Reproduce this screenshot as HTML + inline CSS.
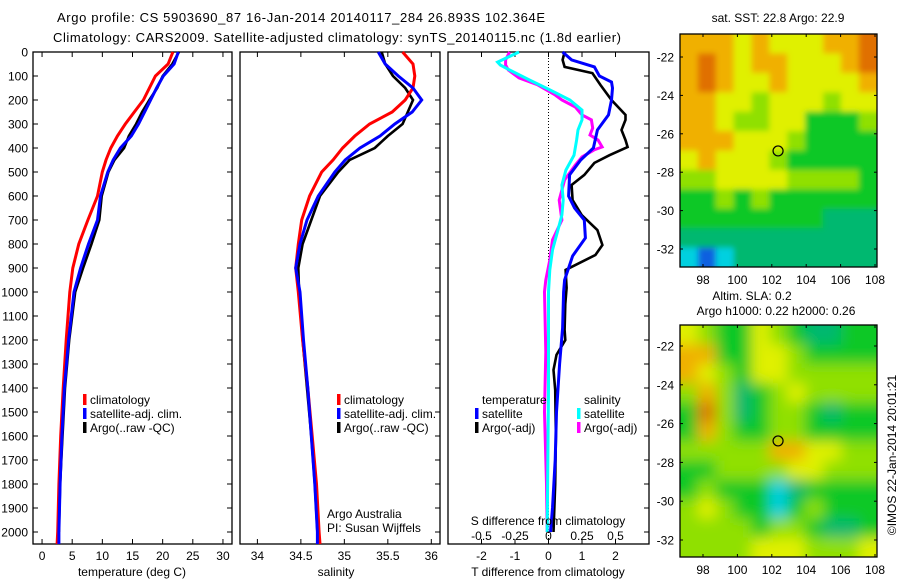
<!DOCTYPE html>
<html><head><meta charset="utf-8">
<style>
html,body{margin:0;padding:0;background:#fff;}
svg{display:block;font-family:"Liberation Sans",sans-serif;}
text{fill:#000;}
</style></head>
<body>
<svg id="fig" width="900" height="580" viewBox="0 0 900 580" xmlns="http://www.w3.org/2000/svg">
<defs>
<filter id="blur1" x="0" y="0" width="1" height="1"><feGaussianBlur stdDeviation="3"/></filter>
<filter id="blur2" x="0" y="0" width="1" height="1"><feGaussianBlur stdDeviation="7"/></filter>
<clipPath id="clipMap1"><rect x="680" y="34" width="197" height="233"/></clipPath>
<clipPath id="clipMap2"><rect x="680" y="325" width="197" height="232"/></clipPath>
</defs>
<text x="57" y="22" font-size="13" textLength="488">Argo profile: CS 5903690_87 16-Jan-2014 20140117_284 26.893S 102.364E</text>
<text x="53" y="42" font-size="13" textLength="568">Climatology: CARS2009. Satellite-adjusted climatology: synTS_20140115.nc (1.8d earlier)</text>
<g id="g"></g>
</svg>
<script>
// ---- data ----
const depthsTS = [0,50,100,150,200,250,300,350,400,450,500,600,700,800,900,1000,1200,1400,1600,1800,2000,2050];
const tempClim = [21.7,20.9,18.8,17.8,16.8,15.3,13.8,12.5,11.4,10.6,10.0,9.2,7.6,6.1,5.1,4.6,4.0,3.5,3.1,2.8,2.6,2.5];
const tempSat  = [22.6,21.9,20.1,19.0,18.0,17.0,16.0,14.8,13.0,11.8,10.9,9.7,9.2,7.7,6.4,5.3,4.4,3.7,3.3,3.0,2.8,2.8];
const tempArgo = [22.7,21.6,20.0,19.1,17.8,16.6,15.6,14.4,13.6,12.0,11.0,9.9,9.5,8.2,6.8,5.5,4.5,3.8,3.4,3.0,2.8,null];
const salClim = [35.67,35.79,35.81,35.79,35.70,35.55,35.29,35.12,34.98,34.87,34.74,34.60,34.51,34.47,34.44,34.47,34.52,34.58,34.63,34.68,34.71,34.72];
const salSat  = [35.39,35.47,35.62,35.79,35.89,35.78,35.58,35.41,35.18,35.01,34.89,34.70,34.57,34.49,34.44,34.49,34.53,34.58,34.62,34.66,34.69,34.69];
const salArgo = [35.43,35.47,35.56,35.70,35.79,35.73,35.67,35.50,35.35,35.06,34.93,34.72,34.62,34.52,34.47,34.48,34.52,34.57,34.62,34.66,34.69,null];

const dTArgoDepth = [0,33,62,88,137,200,262,283,325,367,396,430,462,512,554,617,679,742,804,846,908,983,1050,1158,1200,1262,1325,1408,1600,1800,2000];
const dTArgo = [0.48,0.42,0.48,1.31,1.55,1.88,2.30,2.30,2.18,2.30,2.36,1.82,1.37,1.07,0.69,0.72,0.99,1.46,1.61,1.40,0.51,0.54,0.50,0.48,0.50,0.24,0.15,0.20,0.22,0.20,0.15];
const dTSatDepth = [0,33,62,100,125,150,200,262,325,400,450,512,600,650,700,775,850,950,1000,1150,1300,1500,1700,1900,2000];
const dTSat = [0.42,0.69,1.37,1.52,1.88,1.91,1.88,1.79,1.46,1.34,0.96,0.63,0.60,0.78,1.07,1.10,0.72,0.48,0.45,0.42,0.33,0.24,0.20,0.12,0.06];
const dSSatDepth = [0,42,54,75,117,158,200,242,283,325,367,430,492,554,617,679,742,825,908,1000,1400,2000];
const dSSat = [-0.22,-0.38,-0.36,-0.29,-0.14,0.01,0.16,0.25,0.25,0.22,0.21,0.19,0.13,0.10,0.11,0.10,0.07,0.03,0.01,0.0,0.0,-0.01];
const dSArgoDepth = [0,33,54,75,108,137,179,200,229,262,283,317,346,367,396,408,437,471,533,617,700,783,867,950,1000,1250,1500,1800,2000];
const dSArgo = [-0.29,-0.32,-0.32,-0.30,-0.22,-0.08,0.05,0.10,0.20,0.25,0.32,0.33,0.31,0.37,0.40,0.34,0.25,0.20,0.12,0.08,0.10,0.03,0.01,-0.02,-0.03,-0.02,-0.03,-0.015,-0.01];

const depthTicks = [0,100,200,300,400,500,600,700,800,900,1000,1100,1200,1300,1400,1500,1600,1700,1800,1900,2000];
const tempTicks = [0,5,10,15,20,25,30];
const salTicks = [34,34.5,35,35.5,36];
const salTickLabels = ["34","34.5","35","35.5","36"];
const dTTicks = [-2,-1,0,1,2];
const dSTicks = [-0.5,-0.25,0,0.25,0.5];
const dSTickLabels = ["-0.5","-0.25","0","0.25","0.5"];

const lonTicks = [98,100,102,104,106,108];
const latTicks = [-22,-24,-26,-28,-30,-32];
const argoLon = 102.364, argoLat = -26.893;
// SST map (colour class 0..7), rows north->south
const sstGrid = [
[6,6,6,5,6,5,5,5,6,6,7],
[6,7,6,5,6,6,5,5,5,6,7],
[6,7,6,5,5,6,5,5,5,5,6],
[6,6,5,5,4,5,5,5,4,5,5],
[6,6,5,4,4,5,5,3,3,3,4],
[6,6,6,5,5,5,4,3,3,3,3],
[5,6,5,5,5,4,3,3,3,3,3],
[4,4,5,5,5,5,4,4,4,4,3],
[3,3,4,3,4,3,3,3,3,3,3],
[3,3,3,3,3,3,3,3,2,2,2],
[2,2,2,2,2,2,2,2,2,2,2],
[1,0,1,2,2,2,2,2,2,2,2]];
const slaGrid = [
[5,4,3,3,5,4,3,2,2,3,3],
[6,6,3,3,5,5,4,3,3,3,3],
[6,5,4,3,5,5,4,4,4,4,4],
[4,6,4,2,3,4,5,4,4,4,4],
[3,7,4,2,3,4,4,3,2,3,3],
[3,6,4,3,3,4,4,3,3,3,3],
[4,4,4,4,4,6,6,5,5,4,4],
[3,3,4,4,4,4,5,5,4,4,4],
[3,4,3,3,3,1,2,3,3,3,3],
[4,5,4,3,3,1,3,4,3,3,3],
[4,4,4,4,3,4,4,3,2,2,3],
[4,4,4,4,5,5,5,4,4,4,5]];
const cmap = ["#1060e0","#00d0e0","#00b870","#10c828","#90e000","#e0f000","#f0b000","#e07000"];

// ---- helpers ----
const NS="http://www.w3.org/2000/svg";
const G=document.getElementById('g');
function mk(tag,attrs,parent){const e=document.createElementNS(NS,tag);for(const k in attrs)e.setAttribute(k,attrs[k]);(parent||G).appendChild(e);return e;}
function txt(x,y,s,size,anchor,parent){const e=mk('text',{x:x,y:y,'font-size':size,'text-anchor':anchor||'start'},parent);e.textContent=s;return e;}

const yTop=52, yBot=544;
function yD(d){return yTop + d*0.24;}
const P1={x0:33,x1:232,v0:-1.5,v1:31.5};
const P2={x0:240,x1:440,v0:33.8,v1:36.1};
const P3={x0:448,x1:649,v0:-3,v1:3};
function xs(P,v){return P.x0+(v-P.v0)/(P.v1-P.v0)*(P.x1-P.x0);}
function xS(s){return xs(P3,s*4);}

function panelBox(P,name){
  const r=mk('rect',{x:P.x0,y:yTop,width:P.x1-P.x0,height:yBot-yTop,fill:'none',stroke:'#000','stroke-width':1.3});
  
  
}
function line(P,depths,vals,color,w,name,fx){
  let pts=[];
  for(let i=0;i<depths.length;i++){ if(vals[i]===null) continue; const x=fx?fx(vals[i]):xs(P,vals[i]); pts.push(x.toFixed(1)+','+yD(depths[i]).toFixed(1)); }
  const e=mk('polyline',{points:pts.join(' '),fill:'none',stroke:color,'stroke-width':w,'stroke-linejoin':'miter'});
  
  
}
function xTicks(P,ticks,labels,f){
  ticks.forEach((t,i)=>{
    const x=f?f(t):xs(P,t);
    mk('line',{x1:x,x2:x,y1:yTop,y2:yTop+5,stroke:'#000'});
    mk('line',{x1:x,x2:x,y1:yBot,y2:yBot-5,stroke:'#000'});
    const e=txt(x,560,labels?labels[i]:String(t),12,'middle');
    
    
  });
}

// Panel 1
panelBox(P1,'temperature-panel');
depthTicks.forEach(d=>{
  const y=yD(d);
  mk('line',{x1:P1.x0,x2:P1.x0+5,y1:y,y2:y,stroke:'#000'});
  mk('line',{x1:P1.x1,x2:P1.x1-5,y1:y,y2:y,stroke:'#000'});
  const e=txt(28,y+4.5,String(d),12,'end');
  
  
});
xTicks(P1,tempTicks);
line(P1,depthsTS,tempArgo,'#000',2.6,'temp-argo-line');
line(P1,depthsTS,tempClim,'#ff0000',3,'temp-climatology-line');
line(P1,depthsTS,tempSat,'#0000ff',3,'temp-satellite-line');
let t=txt(132,576,'temperature (deg C)',12,'middle');

// Panel 2
panelBox(P2,'salinity-panel');
depthTicks.forEach(d=>{const y=yD(d);mk('line',{x1:P2.x1,x2:P2.x1-5,y1:y,y2:y,stroke:'#000'});});
xTicks(P2,salTicks,salTickLabels);
line(P2,depthsTS,salArgo,'#000',2.6,'sal-argo-line');
line(P2,depthsTS,salClim,'#ff0000',3,'sal-climatology-line');
line(P2,depthsTS,salSat,'#0000ff',3,'sal-satellite-line');
t=txt(336,576,'salinity',12,'middle');
t=txt(327,518,'Argo Australia',12);
t=txt(327,532,'PI: Susan Wijffels',12);

// legends
function legend(x,y,color,label,name){
  const g=mk('g',{});
  
  
  mk('rect',{x:x,y:y-10,width:3.5,height:11,fill:color},g);
  txt(x+7,y,label,12,'start',g);
}
legend(83,404,'#ff0000','climatology','legend-climatology');
legend(83,418,'#0000ff','satellite-adj. clim.','legend-satellite');
legend(83,432,'#000','Argo(..raw -QC)','legend-argo');
legend(337,404,'#ff0000','climatology','legend2-climatology');
legend(337,418,'#0000ff','satellite-adj. clim.','legend2-satellite');
legend(337,432,'#000','Argo(..raw -QC)','legend2-argo');

// Panel 3
panelBox(P3,'difference-panel');
depthTicks.forEach(d=>{const y=yD(d);mk('line',{x1:P3.x1,x2:P3.x1-5,y1:y,y2:y,stroke:'#000'});});
xTicks(P3,dTTicks);
const x0=xs(P3,0);
const zl=mk('line',{x1:x0,x2:x0,y1:yTop,y2:yBot,stroke:'#000','stroke-dasharray':'1,2'});

line(P3,dSArgoDepth,dSArgo,'#ff00ff',3,'sal-diff-argo-line',xS);
line(P3,dSSatDepth,dSSat,'#00ffff',3,'sal-diff-satellite-line',xS);
line(P3,dTArgoDepth,dTArgo,'#000',2.6,'temp-diff-argo-line');
line(P3,dTSatDepth,dTSat,'#0000ff',3,'temp-diff-satellite-line');
dSTicks.forEach((s,i)=>{const e=txt(xS(s),540,dSTickLabels[i],12,'middle');});
t=txt(548,525,'S difference from climatology',12,'middle');
t=txt(548,576,'T difference from climatology',12,'middle');
t=txt(482,404,'temperature',12);
t=txt(584,404,'salinity',12);
legend(475,418,'#0000ff','satellite','legend-temp-satellite');
legend(475,432,'#000','Argo(-adj)','legend-temp-argo');
legend(577,418,'#00ffff','satellite','legend-sal-satellite');
legend(577,432,'#ff00ff','Argo(-adj)','legend-sal-argo');

// Maps
function drawMap(M,grid,clip,filt,name){
  const g=mk('g',{'clip-path':'url(#'+clip+')'});
  
  
  const inner=mk('g',{filter:'url(#'+filt+')'},g);
  const rows=grid.length, cols=grid[0].length;
  const lonL=M.lon0, lonR=M.lon1, latT=M.lat0, latB=M.lat1;
  const pad=25;
  mk('rect',{x:M.x0-pad,y:M.y0-pad,width:M.x1-M.x0+2*pad,height:M.y1-M.y0+2*pad,fill:cmap[grid[0][0]]},inner);
  for(let r=0;r<rows;r++)for(let c=0;c<cols;c++){
    const la=latT+(latB-latT)*r/rows, lb=latT+(latB-latT)*(r+1)/rows;
    const oa=lonL+(lonR-lonL)*c/cols, ob=lonL+(lonR-lonL)*(c+1)/cols;
    let xa=M.fx(oa), xb=M.fx(ob), ya=M.fy(la), yb=M.fy(lb);
    if(c===0) xa-=pad; if(c===cols-1) xb+=pad; if(r===0) ya-=pad; if(r===rows-1) yb+=pad;
    const cell=mk('rect',{x:xa,y:ya,width:xb-xa+0.5,height:yb-ya+0.5,fill:cmap[grid[r][c]]},inner);
    
    
  }
  mk('rect',{x:M.x0,y:M.y0,width:M.x1-M.x0,height:M.y1-M.y0,fill:'none',stroke:'#000','stroke-width':1.3});
  lonTicks.forEach(l=>{const x=M.fx(l);mk('line',{x1:x,x2:x,y1:M.y0,y2:M.y0+3,stroke:'#000'});mk('line',{x1:x,x2:x,y1:M.y1,y2:M.y1-3,stroke:'#000'});
    const e=txt(x,M.y1+17,String(l),12,'middle');});
  latTicks.forEach(l=>{const y=M.fy(l);mk('line',{x1:M.x0,x2:M.x0+3,y1:y,y2:y,stroke:'#000'});mk('line',{x1:M.x1,x2:M.x1-3,y1:y,y2:y,stroke:'#000'});
    const e=txt(M.x0-6,y+4.5,String(l),12,'end');});
  const m=mk('circle',{cx:M.fx(argoLon),cy:M.fy(argoLat),r:5,fill:'none',stroke:'#000','stroke-width':1.2});
  
  
}
const M1={x0:680,x1:877,y0:34,y1:267,lon0:96.66,lon1:108.1,lat0:-20.8,lat1:-32.94,fx:l=>703+(l-98)*17.2,fy:l=>57+(-22-l)*19.2};
const M2={x0:680,x1:877,y0:325,y1:557,lon0:96.66,lon1:108.1,lat0:-20.92,lat1:-32.88,fx:l=>703+(l-98)*17.2,fy:l=>346+(-22-l)*19.4};
drawMap(M1,sstGrid,'clipMap1','blur1','sst-map');
drawMap(M2,slaGrid,'clipMap2','blur2','sla-map');
t=txt(778,22,'sat. SST: 22.8 Argo: 22.9',12,'middle');
t=txt(752,300,'Altim. SLA: 0.2',12,'middle');
t=txt(776,315,'Argo h1000: 0.22 h2000: 0.26',12,'middle');
t=txt(0,0,'\u00a9IMOS 22-Jan-2014 20:01:21',12,'middle');t.setAttribute('transform','translate(896,455) rotate(-90)');
</script>
</body></html>
